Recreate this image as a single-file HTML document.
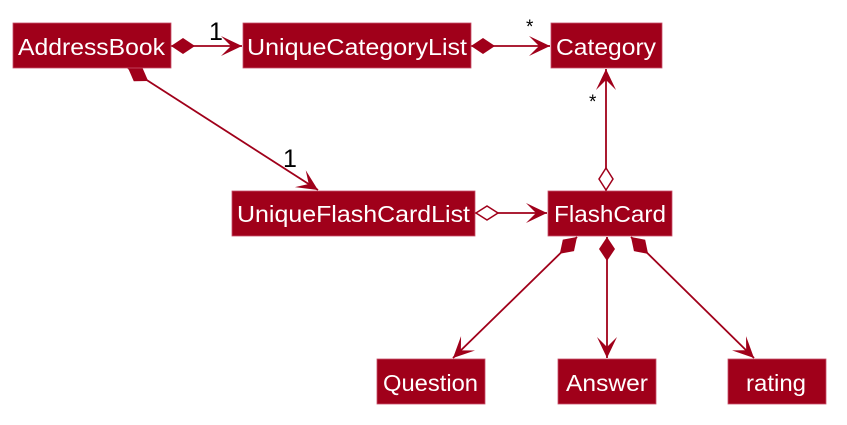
<!DOCTYPE html>
<html><head><style>
html,body{margin:0;padding:0;background:#fff;}
svg{display:block;}
text{font-family:"Liberation Sans",Arial,sans-serif;}
</style></head><body>
<svg width="847" height="425" viewBox="0 0 847 425" xmlns="http://www.w3.org/2000/svg">
<defs>
<marker id="arr" markerUnits="userSpaceOnUse" markerWidth="30" markerHeight="30" viewBox="-25 -12 30 24" refX="0" refY="0" orient="auto">
<path d="M0,0 L-21,-10 L-11,0 L-21,10 Z" fill="#A0001A"/>
</marker>
<marker id="fd" markerUnits="userSpaceOnUse" markerWidth="30" markerHeight="30" viewBox="-2 -12 30 24" refX="0" refY="0" orient="auto">
<path d="M0,0 L12,-8 L24,0 L12,8 Z" fill="#A0001A"/>
</marker>
<marker id="hd" markerUnits="userSpaceOnUse" markerWidth="30" markerHeight="30" viewBox="-2 -12 30 24" refX="0" refY="0" orient="auto">
<path d="M1,0 L12,-7 L23,0 L12,7 Z" fill="#fff" stroke="#A0001A" stroke-width="1.5"/>
</marker>
</defs>
<g stroke="#A0001A" stroke-width="1.8" fill="none">
<line x1="171" y1="46" x2="242" y2="46" marker-start="url(#fd)" marker-end="url(#arr)"/>
<line x1="471" y1="46" x2="550" y2="46" marker-start="url(#fd)" marker-end="url(#arr)"/>
<line x1="128" y1="68" x2="318" y2="190" marker-start="url(#fd)" marker-end="url(#arr)"/>
<line x1="475" y1="213" x2="547" y2="213" marker-start="url(#hd)" marker-end="url(#arr)"/>
<line x1="606" y1="191" x2="606" y2="69" marker-start="url(#hd)" marker-end="url(#arr)"/>
<line x1="577" y1="237" x2="453" y2="358" marker-start="url(#fd)" marker-end="url(#arr)"/>
<line x1="607" y1="237" x2="607" y2="358" marker-start="url(#fd)" marker-end="url(#arr)"/>
<line x1="631" y1="237" x2="754" y2="358" marker-start="url(#fd)" marker-end="url(#arr)"/>
</g>
<g fill="#A0001A" stroke="#C8506A" stroke-width="0.8">
<rect x="13" y="23" width="158" height="45"/>
<rect x="243" y="23" width="228" height="45"/>
<rect x="551" y="23" width="111" height="45"/>
<rect x="232" y="191" width="243" height="45"/>
<rect x="548" y="191" width="124" height="45"/>
<rect x="377" y="359" width="108" height="45"/>
<rect x="558" y="359" width="98" height="45"/>
<rect x="728" y="359" width="98" height="45"/>
</g>
<g fill="#fff" font-size="23" lengthAdjust="spacingAndGlyphs">
<text x="18" y="55" textLength="147" lengthAdjust="spacingAndGlyphs">AddressBook</text>
<text x="247" y="55" textLength="220" lengthAdjust="spacingAndGlyphs">UniqueCategoryList</text>
<text x="556" y="55" textLength="100" lengthAdjust="spacingAndGlyphs">Category</text>
<text x="237" y="222" textLength="233" lengthAdjust="spacingAndGlyphs">UniqueFlashCardList</text>
<text x="554" y="222" textLength="112" lengthAdjust="spacingAndGlyphs">FlashCard</text>
<text x="383" y="391" textLength="95" lengthAdjust="spacingAndGlyphs">Question</text>
<text x="566" y="391" textLength="82" lengthAdjust="spacingAndGlyphs">Answer</text>
<text x="746" y="391" textLength="60" lengthAdjust="spacingAndGlyphs">rating</text>
</g>
<g fill="#000">
<text x="209" y="40" font-size="25">1</text>
<text x="526" y="33" font-size="19">*</text>
<text x="283" y="167" font-size="25">1</text>
<text x="589" y="108" font-size="19">*</text>
</g>
</svg>
</body></html>
